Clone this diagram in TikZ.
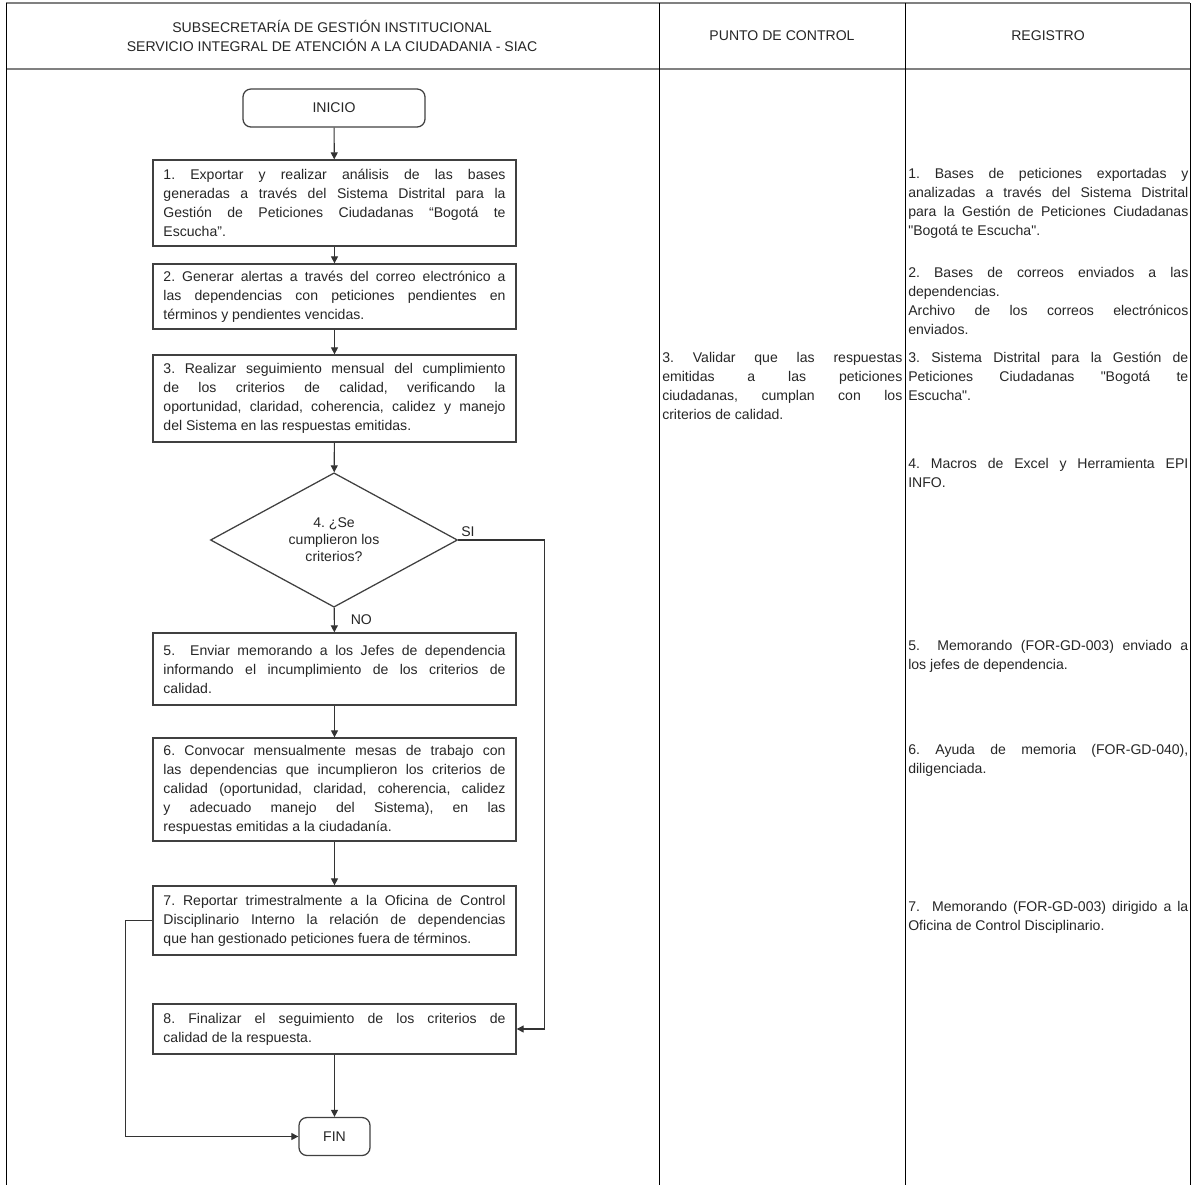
\documentclass[tikz,border=0pt]{standalone}
\usepackage{fontspec}
\setmainfont{Liberation Sans}
\usetikzlibrary{shapes.geometric,arrows.meta}
\frenchspacing

\begin{document}
\begin{tikzpicture}[x=0.025cm,y=-0.025cm,
	font=\fontsize{10}{13.5}\selectfont,
	every node/.style={text=black!85},
	box/.style={draw=black!75,line width=0.9pt,text width=8.55cm,align=justify,inner xsep=0.2625cm,inner ysep=0pt,minimum height=#1},
	term/.style={draw=black!75,line width=0.9pt,rounded corners=0.2cm,minimum width=#1,minimum height=0.95cm,inner sep=0pt},
	txt/.style={text width=#1,align=justify,inner sep=0pt,anchor=north west},
	arrow/.style={-{Triangle[length=5pt,width=5pt]},line width=0.8pt,draw=black!80}]
	\useasboundingbox (0,0) rectangle (1193,1185);
	\draw[line width=1.4pt,color=gray] (6,3) -- (1190,3);
	\draw[line width=1.4pt,color=gray] (6,69) -- (1190,69);
	\draw[line width=0.7pt] (6,3) -- (6,1185);
	\draw[line width=0.7pt] (659,3) -- (659,1185);
	\draw[line width=0.7pt] (905,3) -- (905,1185);
	\draw[line width=0.7pt] (1190,3) -- (1190,1185);
	\node[align=center] (head1) at (332,35.5) {SUBSECRETARÍA DE GESTIÓN INSTITUCIONAL\\SERVICIO INTEGRAL DE ATENCIÓN A LA CIUDADANIA - SIAC};
	\node (head2) at (782,36) {PUNTO DE CONTROL};
	\node (head3) at (1048,36) {REGISTRO};

	\node[term=4.55cm] (ini) at (334,108) {INICIO};
	\node[box=2.15cm] (n1) at (334.5,203) {1. Exportar y realizar análisis de las bases \linebreak generadas a través del Sistema Distrital para la \linebreak Gestión de Peticiones Ciudadanas “Bogotá te \linebreak Escucha”.};
	\node[box=1.625cm] (n2) at (334.5,296.5) {2. Generar alertas a través del correo electrónico a \linebreak las dependencias con peticiones pendientes en \linebreak términos y pendientes vencidas.};
	\node[box=2.175cm] (n3) at (334.5,398.5) {3. Realizar seguimiento mensual del cumplimiento \linebreak de los criterios de calidad, verificando la \linebreak oportunidad, claridad, coherencia, calidez y manejo \linebreak del Sistema en las respuestas emitidas.};
	\node[diamond,draw=black!75,line width=0.9pt,minimum width=6.175cm,minimum height=3.25cm,inner sep=0pt,align=center,font=\fontsize{10}{12}\selectfont] (dec) at (334,540) {4. ¿Se\\cumplieron los\\criterios?};
	\node[box=1.8cm] (n5) at (334.5,669) {5.\ \ Enviar memorando a los Jefes de dependencia \linebreak informando el incumplimiento de los criterios de \linebreak calidad.};
	\node[box=2.575cm] (n6) at (334.5,789.5) {6. Convocar mensualmente mesas de trabajo con \linebreak las dependencias que incumplieron los criterios de \linebreak calidad (oportunidad, claridad, coherencia, calidez \linebreak y adecuado manejo del Sistema), en las \linebreak respuestas emitidas a la ciudadanía.};
	\node[box=1.725cm] (n7) at (334.5,920.5) {7. Reportar trimestralmente a la Oficina de Control \linebreak Disciplinario Interno la relación de dependencias \linebreak que han gestionado peticiones fuera de términos.};
	\node[box=1.25cm] (n8) at (334.5,1029) {8. Finalizar el seguimiento de los criterios de \linebreak calidad de la respuesta.};
	\node[term=1.775cm] (fin) at (334.5,1136.5) {FIN};

	\draw[arrow] (ini) -- (n1);
	\draw[arrow] (n1) -- (n2);
	\draw[arrow] (n2) -- (n3);
	\draw[arrow] (n3) -- (dec);
	\draw[arrow] (dec) -- node[right=8pt] (no) {NO} (n5);
	\draw[arrow] (n5) -- (n6);
	\draw[arrow] (n6) -- (n7);
	\draw[arrow] (n8) -- (fin);
	\node[anchor=south west,inner sep=2pt] (si) at (dec.east) {SI};
	\draw[arrow] (dec.east) -- ++(86,0) |- (n8.east);
	\draw[arrow] (n7.west) -- ++(-27,0) |- (fin.west);

	\node[txt=6cm] (pc3) at (662,352) {3. Validar que las respuestas \linebreak emitidas a las peticiones \linebreak ciudadanas, cumplan con los \linebreak criterios de calidad.};

	\node[txt=7cm] (reg1) at (908,168) {1. Bases de peticiones exportadas y \linebreak analizadas a través del Sistema Distrital \linebreak para la Gestión de Peticiones Ciudadanas \linebreak \textquotedbl Bogotá te Escucha\textquotedbl.};
	\node[txt=7cm] (reg2) at (908,267) {2. Bases de correos enviados a las \linebreak dependencias.\\Archivo de los correos electrónicos \linebreak enviados.};
	\node[txt=7cm] (reg3) at (908,352) {3. Sistema Distrital para la Gestión de \linebreak Peticiones Ciudadanas \textquotedbl Bogotá te \linebreak Escucha\textquotedbl.};
	\node[txt=7cm] (reg4) at (908,458) {4. Macros de Excel y Herramienta EPI \linebreak INFO.};
	\node[txt=7cm] (reg5) at (908,640) {5.\ \ Memorando (FOR-GD-003) enviado a \linebreak los jefes de dependencia.};
	\node[txt=7cm] (reg6) at (908,744) {6. Ayuda de memoria (FOR-GD-040), \linebreak diligenciada.};
	\node[txt=7cm] (reg7) at (908,901) {7.\ \ Memorando (FOR-GD-003) dirigido a la \linebreak Oficina de Control Disciplinario.};
\end{tikzpicture}
\end{document}
